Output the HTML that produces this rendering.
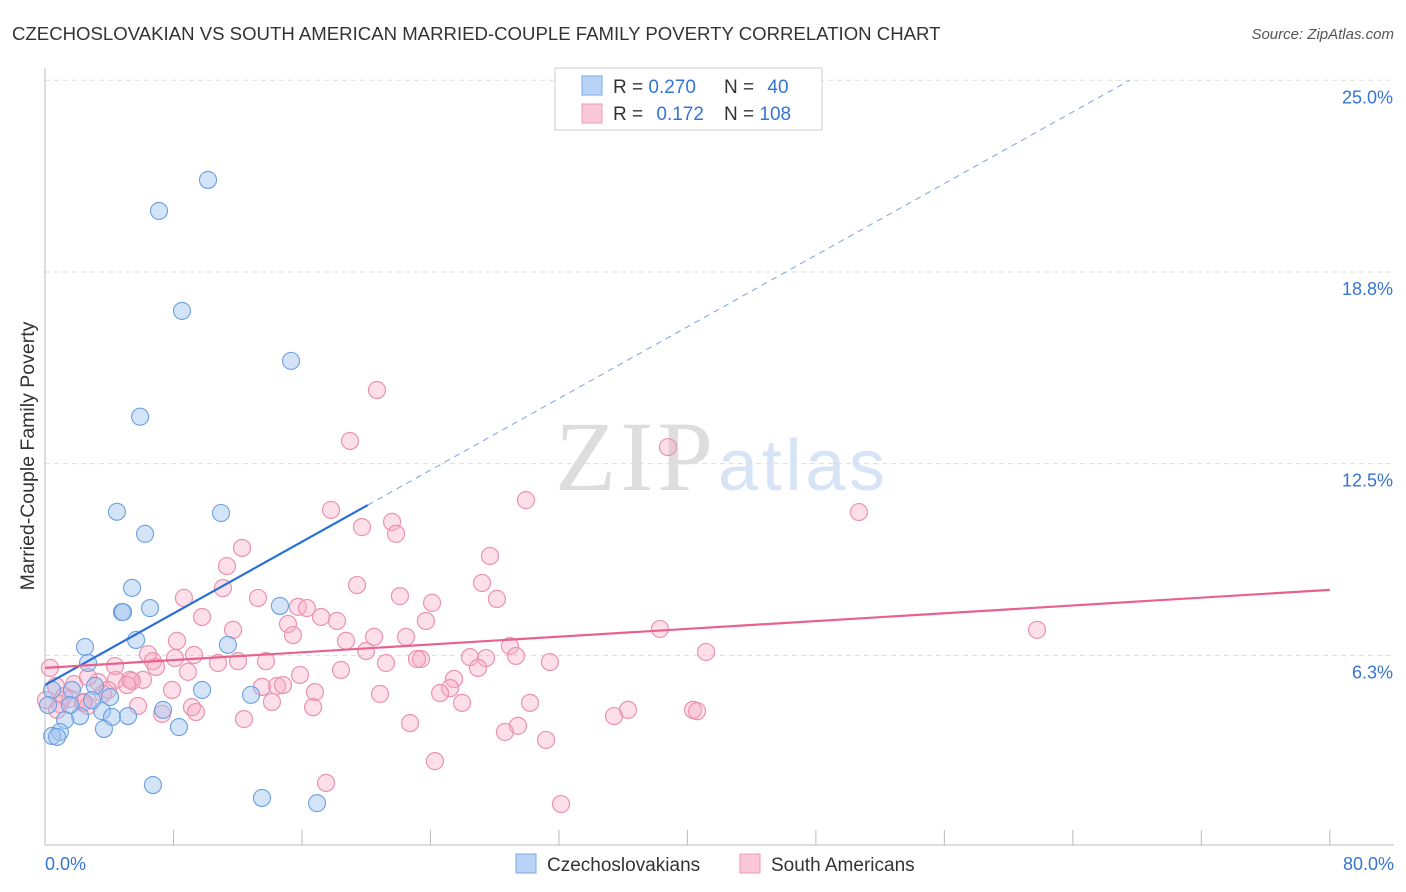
<!DOCTYPE html>
<html><head><meta charset="utf-8"><style>
body{margin:0;background:#fff;font-family:"Liberation Sans",sans-serif;}
#wrap{position:relative;width:1406px;height:892px;overflow:hidden;}
</style></head><body>
<div id="wrap">
<svg id="svg" width="1406" height="892" xmlns="http://www.w3.org/2000/svg">
<text x="12" y="40" font-size="18.6" fill="#333">CZECHOSLOVAKIAN VS SOUTH AMERICAN MARRIED-COUPLE FAMILY POVERTY CORRELATION CHART</text>
<text x="1394" y="39" font-size="15" fill="#555" font-style="italic" text-anchor="end">Source: ZipAtlas.com</text>
<text x="34" y="456" font-size="19.5" fill="#333" text-anchor="middle" transform="rotate(-90 34 456)">Married-Couple Family Poverty</text>
<text x="713" y="490" font-size="100" fill="#ddd" text-anchor="end" font-family="Liberation Serif,serif" textLength="158">ZIP</text>
<text x="718" y="490" font-size="72" fill="#d6e4f6" textLength="167">atlas</text>
<g id="grid"></g><g id="pts"></g><g id="lines"></g>
<g>
<rect x="555" y="68" width="267" height="62" fill="#fff" stroke="#ccc"/>
<rect x="582" y="76" width="20" height="19" fill="#b8d3f5" stroke="#7aa8e6"/>
<rect x="582" y="104" width="20" height="19" fill="#fbc8d8" stroke="#ee9ab4"/>
<text x="613" y="93" font-size="19" fill="#333">R = <tspan fill="#3575d3">0.270</tspan></text>
<text x="724" y="93" font-size="19" fill="#333">N = <tspan fill="#3575d3" dx="8">40</tspan></text>
<text x="613" y="120" font-size="19" fill="#333">R = <tspan fill="#3575d3" dx="8">0.172</tspan></text>
<text x="724" y="120" font-size="19" fill="#333">N = <tspan fill="#3575d3">108</tspan></text>
</g>
<g>
<rect x="516" y="854" width="20" height="19" fill="#b8d3f5" stroke="#7aa8e6"/>
<text x="547" y="871" font-size="19" fill="#333">Czechoslovakians</text>
<rect x="740" y="854" width="20" height="19" fill="#fbc8d8" stroke="#ee9ab4"/>
<text x="771" y="871" font-size="19" fill="#333">South Americans</text>
</g>
</svg></div>
<script>
const blueX=[10.15,7.10,8.53,15.32,5.92,4.48,10.96,6.23,5.42,6.54,4.79,14.63,5.67,2.49,11.39,2.68,1.68,3.11,4.05,9.78,12.83,0.44,7.35,3.55,2.18,1.25,4.17,5.17,8.34,3.67,0.93,0.44,0.75,6.72,13.51,16.94,0.19,1.56,2.93,4.86];
const blueY=[21.75,20.74,17.48,15.85,14.03,10.93,10.89,10.21,8.45,7.79,7.66,7.86,6.75,6.52,6.59,6.00,5.12,5.25,4.89,5.12,4.96,5.12,4.47,4.43,4.27,4.14,4.24,4.27,3.91,3.85,3.75,3.62,3.59,2.02,1.60,1.43,4.63,4.63,4.79,7.66];
const pinkX=[20.67,18.99,38.79,29.95,50.68,17.81,21.61,19.74,21.86,12.27,27.71,11.33,19.43,11.08,27.21,22.10,13.26,8.65,28.14,24.10,15.75,16.31,17.19,9.78,15.13,23.72,18.18,11.71,38.29,61.77,15.44,20.49,22.48,8.22,18.74,28.95,19.99,6.41,9.28,26.46,27.46,29.33,41.16,6.72,23.41,23.16,31.44,10.77,13.76,12.02,6.91,21.23,26.96,18.43,15.88,8.90,4.42,5.29,6.10,5.42,3.30,1.81,2.68,13.51,14.45,14.82,25.47,7.91,16.81,25.22,0.68,3.92,20.86,1.18,1.56,2.43,14.13,24.60,25.97,30.20,16.69,9.15,5.79,9.40,7.29,36.30,35.43,40.35,40.60,12.39,22.73,29.45,28.64,31.20,24.28,17.50,32.13,0.31,0.06,4.36,3.61,5.11,0.93,0.75,2.37,2.68,8.09];
const pinkY=[14.90,13.24,13.04,11.31,10.92,10.99,10.60,10.43,10.21,9.75,9.49,9.16,8.54,8.44,8.61,8.18,8.12,8.12,8.09,7.96,7.83,7.79,7.50,7.50,7.27,7.37,7.37,7.08,7.11,7.08,6.91,6.85,6.85,6.72,6.72,6.55,6.39,6.29,6.26,6.19,6.16,6.23,6.36,6.06,6.13,6.13,6.03,6.00,6.06,6.06,5.87,6.00,5.84,5.77,5.61,5.71,5.45,5.45,5.45,5.41,5.38,5.31,5.54,5.22,5.25,5.28,5.48,5.12,5.05,5.18,5.25,5.12,4.99,4.92,4.83,4.73,4.73,5.02,4.70,4.70,4.56,4.56,4.60,4.40,4.34,4.47,4.27,4.47,4.43,4.17,4.04,3.95,3.75,3.49,2.80,2.09,1.40,5.84,4.79,5.90,4.99,5.28,4.66,4.47,4.70,4.60,6.16];
const yTicks=[25,18.75,12.5,6.25];
const yTickLabels=["25.0%","18.8%","12.5%","6.3%"];
const xTicks=[0,8,16,24,32,40,48,56,64,72,80];
const blueTrend=[5.28,0.292];
const pinkTrend=[5.84,0.0318];
const NS="http://www.w3.org/2000/svg";
const sx=v=>45+v*16.06, sy=v=>847-v*30.67;
function mk(t,a,p){const e=document.createElementNS(NS,t);for(const k in a)e.setAttribute(k,a[k]);p.appendChild(e);return e;}
const grid=document.getElementById('grid'),pts=document.getElementById('pts'),lines=document.getElementById('lines');
yTicks.forEach((v,i)=>{
 const l=mk('line',{x1:45,x2:1394,y1:sy(v),y2:sy(v),stroke:'#ddd','stroke-dasharray':'5,4'},grid);
 
 
 const t=mk('text',{x:1393,y:sy(v)+23,'font-size':18,fill:'#3575d3','text-anchor':'end'},grid);
 t.textContent=yTickLabels[i];
 
 
});
const ax=mk('line',{x1:45,x2:45,y1:68,y2:845,stroke:'#bbb'},grid);


const bx=mk('line',{x1:45,x2:1394,y1:845,y2:845,stroke:'#bbb'},grid);


xTicks.forEach(v=>{const l=mk('line',{x1:sx(v),x2:sx(v),y1:830,y2:845,stroke:'#bbb'},grid);
 
 });
[[0,"0.0%","start",45],[80,"80.0%","end",1394]].forEach(a=>{const t=mk('text',{x:a[3],y:870,'font-size':18,fill:'#3575d3','text-anchor':a[2]},grid);t.textContent=a[1];
 
 });
pinkX.forEach((x,i)=>{const c=mk('circle',{cx:sx(x),cy:sy(pinkY[i]),r:8.5,fill:'rgba(248,170,195,0.38)',stroke:'#eb93ae','stroke-width':1.2},pts);
 
 });
blueX.forEach((x,i)=>{const c=mk('circle',{cx:sx(x),cy:sy(blueY[i]),r:8.5,fill:'rgba(160,195,240,0.45)',stroke:'#6a9fe0','stroke-width':1.1},pts);
 
 });
const bs=mk('line',{x1:sx(0),y1:sy(blueTrend[0]),x2:sx(20.1),y2:sy(blueTrend[0]+blueTrend[1]*20.1),stroke:'#2a6fd6','stroke-width':2.2},lines);


const xe=(25-blueTrend[0])/blueTrend[1];
const bd=mk('line',{x1:sx(20.1),y1:sy(blueTrend[0]+blueTrend[1]*20.1),x2:sx(xe),y2:sy(25),stroke:'#7aa3dc','stroke-width':1,'stroke-dasharray':'6,5'},lines);


const pl=mk('line',{x1:sx(0),y1:sy(pinkTrend[0]),x2:sx(80),y2:sy(pinkTrend[0]+pinkTrend[1]*80),stroke:'#e8628e','stroke-width':2.2},lines);


</script>
</body></html>
